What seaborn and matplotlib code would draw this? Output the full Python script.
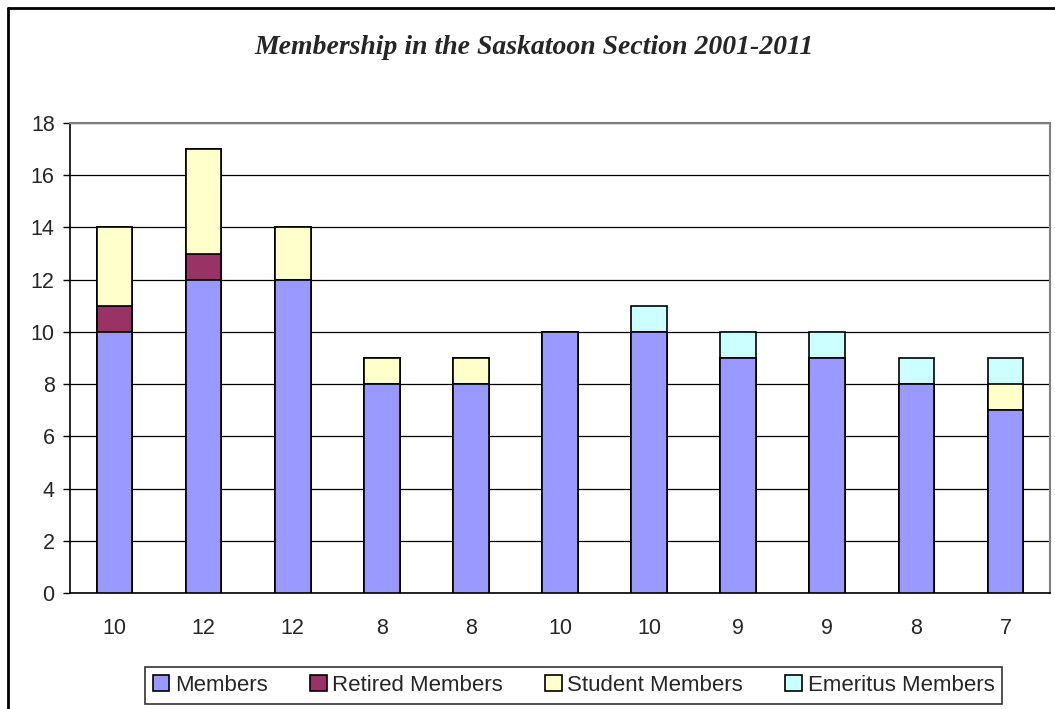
import pandas as pd
import matplotlib.pyplot as plt
import seaborn as sns
from matplotlib.patches import Patch
from matplotlib.lines import Line2D

# Datos
years = ['2001', '2002', '2003', '2004', '2005', '2006', '2007', '2008', '2009', '2010', '2011']
members = [10, 12, 12, 8, 8, 10, 10, 9, 9, 8, 7]
retired = [1, 1, 0, 0, 0, 0, 0, 0, 0, 0, 0]
student = [3, 4, 2, 1, 1, 0, 0, 0, 0, 0, 1]
emeritus = [0, 0, 0, 0, 0, 0, 1, 1, 1, 1, 1]
tick_labels = ['10', '12', '12', '8', '8', '10', '10', '9', '9', '8', '7']

series_names = ['Members', 'Retired Members', 'Student Members', 'Emeritus Members']
series_colors = ['#9999FF', '#993366', '#FFFFCC', '#CCFFFF']

sns.set_style("white")
plt.rcParams['font.family'] = ['Liberation Sans', 'DejaVu Sans']

df = pd.DataFrame({'year': years, 'Members': members, 'Retired Members': retired,
                   'Student Members': student, 'Emeritus Members': emeritus})

# Acumulados para apilar
cum = df[series_names].cumsum(axis=1)
cum['year'] = df['year']

W, H = 1055, 709
fig = plt.figure(figsize=(W / 100, H / 100), dpi=100)
ax = fig.add_axes([70 / W, 1 - 593 / H, (1050 - 70) / W, (593 - 123) / H])

# Dibujar de arriba hacia abajo para simular barras apiladas
for name, color in reversed(list(zip(series_names, series_colors))):
    sns.barplot(data=cum, x='year', y=name, order=years, color=color,
                width=0.4, edgecolor='black', linewidth=1.2, ax=ax,
                saturation=1, zorder=3)

ax.set_xlim(-0.5, len(years) - 0.5)
ax.set_ylim(0, 18)
ax.set_yticks(range(0, 19, 2))
ax.set_xticks(range(len(years)))
ax.set_xticklabels(tick_labels)
ax.set_xticks([i - 0.5 for i in range(len(years) + 1)], minor=True)
ax.set_xlabel('')
ax.set_ylabel('')

ax.yaxis.grid(True, color='black', linewidth=0.9, zorder=0)
ax.set_axisbelow(True)
ax.tick_params(axis='x', which='major', length=0, pad=18, labelsize=15.5)
ax.tick_params(axis='x', which='minor', length=5, width=1, direction='out', color='black')
ax.tick_params(axis='y', which='major', length=5, width=1, direction='out', pad=6,
               labelsize=15.5, left=True, color='black')

for side in ['left', 'bottom']:
    ax.spines[side].set_color('black')
    ax.spines[side].set_linewidth(1.2)
for side in ['top', 'right']:
    ax.spines[side].set_color('#808080')
    ax.spines[side].set_linewidth(1.5)

fig.text((253 + 815) / 2 / W, 1 - 48 / H, 'Membership in the Saskatoon Section 2001-2011',
         ha='center', va='center', family='Liberation Serif', weight='bold',
         style='italic', fontsize=20)

handles = [Patch(facecolor=c, edgecolor='black', linewidth=1.2) for c in series_colors]
leg = fig.legend(handles, series_names, loc='center', ncol=4,
                 bbox_to_anchor=((145 + 1002) / 2 / W, 1 - 685.5 / H),
                 fontsize=16, frameon=True, fancybox=False, edgecolor='black',
                 handlelength=0.75, handleheight=0.75, handletextpad=0.25,
                 columnspacing=1.9, borderpad=0.35)
leg.get_frame().set_linewidth(1.2)

# Borde exterior del gráfico (izquierda y arriba)
fig.add_artist(Line2D([7.5 / W, 7.5 / W], [0, 1 - 7.5 / H], color='black', linewidth=2,
                      transform=fig.transFigure))
fig.add_artist(Line2D([7.5 / W, 1], [1 - 7.5 / H, 1 - 7.5 / H], color='black', linewidth=2,
                      transform=fig.transFigure))

plt.savefig('out.png', dpi=100)
plt.close()
